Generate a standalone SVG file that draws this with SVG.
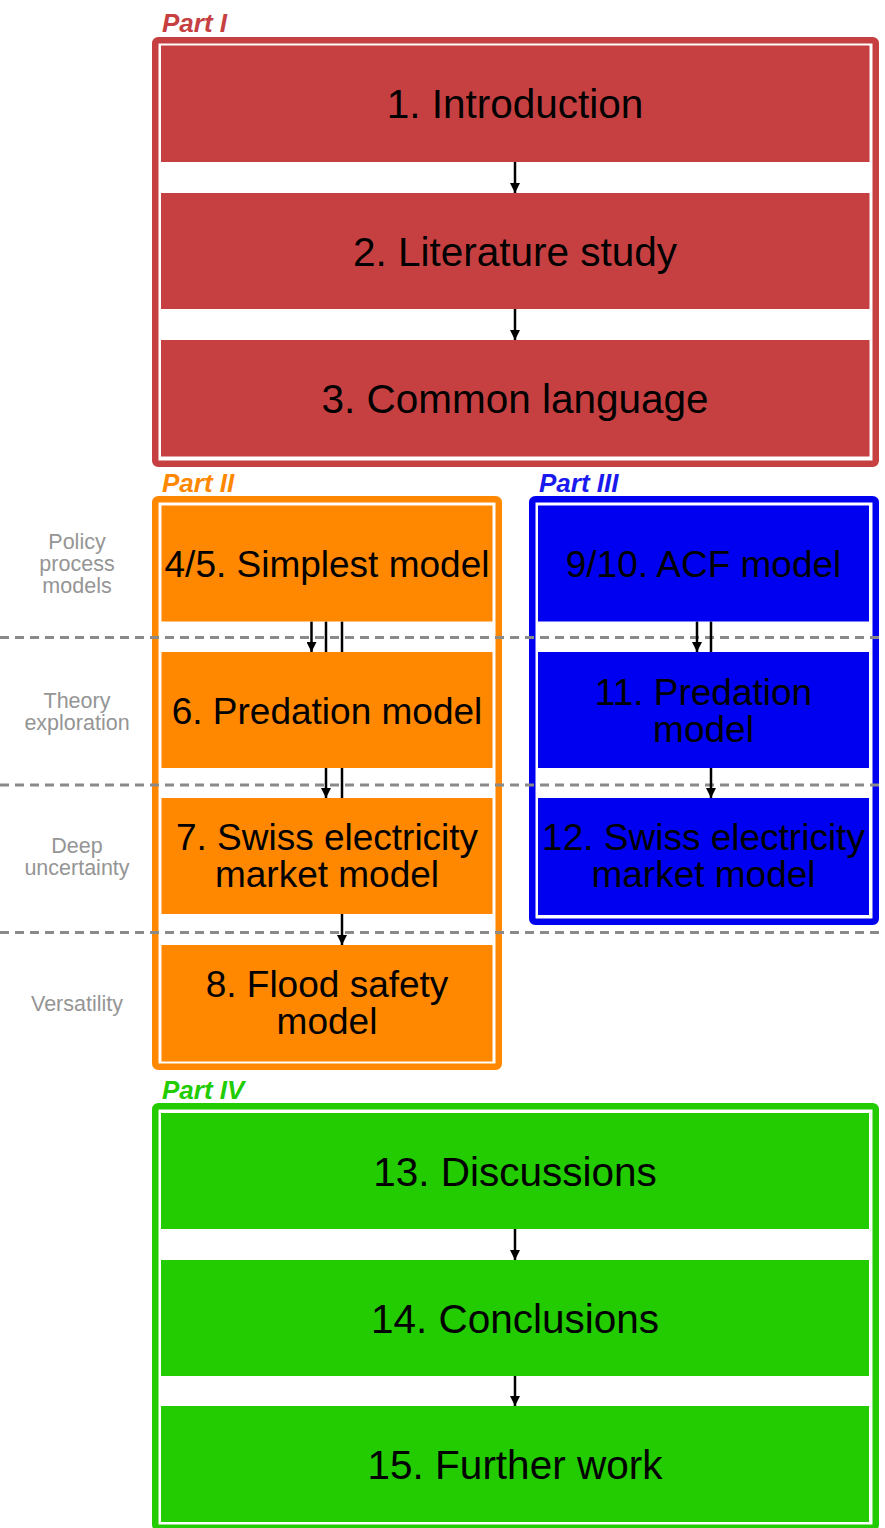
<svg xmlns="http://www.w3.org/2000/svg" width="885" height="1528" viewBox="0 0 885 1528">
  <style>
    .frame { fill: #ffffff; stroke-width: 6.5; }
    .part-label { font-family: "Liberation Sans", Arial, sans-serif; font-size: 26px; font-weight: bold; font-style: italic; }
    .node-text { font-family: "Liberation Sans", Arial, sans-serif; font-size: 37px; fill: #000000; text-anchor: middle; }
    .big { font-size: 40.5px; }
    .lane-text { font-family: "Liberation Sans", Arial, sans-serif; font-size: 21.5px; fill: #959595; text-anchor: middle; }
    .lane-line { stroke: #8a8a8a; stroke-width: 3; stroke-dasharray: 9 6; fill: none; }
    .edge { stroke: #000000; stroke-width: 2.5; fill: none; marker-end: url(#arrow); }
    .red { fill: #c64042; }
    .orange { fill: #ff8800; }
    .blue { fill: #0000f0; }
    .green { fill: #22cc00; }
  </style>
  <defs>
    <marker id="arrow" markerUnits="userSpaceOnUse" markerWidth="10" markerHeight="10" refX="10" refY="5" orient="auto">
      <path d="M0,0 L10,5 L0,10 z" fill="#000000"/>
    </marker>
  </defs>

  <!-- Part frames with their titles -->
  <g id="part-1">
    <rect class="frame" x="155.25" y="40.25" width="720.5" height="423.5" rx="3" stroke="#c64042"/>
    <text class="part-label" x="162" y="32" fill="#c64042">Part I</text>
  </g>
  <g id="part-2">
    <rect class="frame" x="155.25" y="499.25" width="343.5" height="567.5" rx="3" stroke="#ff8800"/>
    <text class="part-label" x="162" y="492" fill="#ff8800">Part II</text>
  </g>
  <g id="part-3">
    <rect class="frame" x="532.25" y="499.25" width="343.5" height="422.5" rx="3" stroke="#0000f0"/>
    <text class="part-label" x="539" y="492" fill="#1a1aee">Part III</text>
  </g>
  <g id="part-4">
    <rect class="frame" x="155.25" y="1106.25" width="720.5" height="421.5" rx="3" stroke="#22cc00"/>
    <text class="part-label" x="162" y="1099" fill="#22cc00">Part IV</text>
  </g>

  <!-- Horizontal lanes across the model chapters -->
  <g id="lanes">
    <line class="lane-line" x1="0" y1="637.5" x2="885" y2="637.5"/>
    <line class="lane-line" x1="0" y1="785" x2="885" y2="785"/>
    <line class="lane-line" x1="0" y1="932.5" x2="885" y2="932.5"/>
    <text class="lane-text" x="77" y="549">Policy</text>
    <text class="lane-text" x="77" y="571">process</text>
    <text class="lane-text" x="77" y="593">models</text>
    <text class="lane-text" x="77" y="708">Theory</text>
    <text class="lane-text" x="77" y="730">exploration</text>
    <text class="lane-text" x="77" y="853">Deep</text>
    <text class="lane-text" x="77" y="875">uncertainty</text>
    <text class="lane-text" x="77" y="1011">Versatility</text>
  </g>

  <!-- Connectors (drawn beneath the boxes so long runs pass behind them) -->
  <g id="connectors">
    <line class="edge" x1="515" y1="162" x2="515" y2="193"/>
    <line class="edge" x1="515" y1="309" x2="515" y2="340"/>
    <line class="edge" x1="311.5" y1="621.5" x2="311.5" y2="652"/>
    <line class="edge" x1="326" y1="621.5" x2="326" y2="798"/>
    <line class="edge" x1="342" y1="621.5" x2="342" y2="945"/>
    <line class="edge" x1="697" y1="621.5" x2="697" y2="652"/>
    <line class="edge" x1="711" y1="621.5" x2="711" y2="798"/>
    <line class="edge" x1="515" y1="1229" x2="515" y2="1260"/>
    <line class="edge" x1="515" y1="1376" x2="515" y2="1406"/>
  </g>

  <!-- Part I chapters -->
  <g id="node-1">
    <rect class="red" x="161" y="45.5" width="708.5" height="116.5"/>
    <text class="node-text big" x="515" y="118">1. Introduction</text>
  </g>
  <g id="node-2">
    <rect class="red" x="161" y="193" width="708.5" height="116"/>
    <text class="node-text big" x="515" y="265.5">2. Literature study</text>
  </g>
  <g id="node-3">
    <rect class="red" x="161" y="340" width="708.5" height="116.5"/>
    <text class="node-text big" x="515" y="413">3. Common language</text>
  </g>

  <!-- Part II chapters -->
  <g id="node-4-5">
    <rect class="orange" x="161.5" y="505.5" width="331" height="116"/>
    <text class="node-text" x="327" y="577">4/5. Simplest model</text>
  </g>
  <g id="node-6">
    <rect class="orange" x="161.5" y="652" width="331" height="116"/>
    <text class="node-text" x="327" y="723.5">6. Predation model</text>
  </g>
  <g id="node-7">
    <rect class="orange" x="161.5" y="798" width="331" height="116"/>
    <text class="node-text" x="327" y="850">7. Swiss electricity</text>
    <text class="node-text" x="327" y="887">market model</text>
  </g>
  <g id="node-8">
    <rect class="orange" x="161.5" y="945" width="331" height="116.5"/>
    <text class="node-text" x="327" y="997">8. Flood safety</text>
    <text class="node-text" x="327" y="1034">model</text>
  </g>

  <!-- Part III chapters -->
  <g id="node-9-10">
    <rect class="blue" x="538" y="505.5" width="331" height="116"/>
    <text class="node-text" x="703.5" y="577">9/10. ACF model</text>
  </g>
  <g id="node-11">
    <rect class="blue" x="538" y="652" width="331" height="116"/>
    <text class="node-text" x="703.5" y="705">11. Predation</text>
    <text class="node-text" x="703.5" y="742">model</text>
  </g>
  <g id="node-12">
    <rect class="blue" x="538" y="798" width="331" height="117"/>
    <text class="node-text" x="703.5" y="850">12. Swiss electricity</text>
    <text class="node-text" x="703.5" y="887">market model</text>
  </g>

  <!-- Part IV chapters -->
  <g id="node-13">
    <rect class="green" x="161" y="1113" width="708" height="116"/>
    <text class="node-text big" x="515" y="1185.5">13. Discussions</text>
  </g>
  <g id="node-14">
    <rect class="green" x="161" y="1260" width="708" height="116"/>
    <text class="node-text big" x="515" y="1332.5">14. Conclusions</text>
  </g>
  <g id="node-15">
    <rect class="green" x="161" y="1406" width="708" height="116"/>
    <text class="node-text big" x="515" y="1478.5">15. Further work</text>
  </g>
</svg>
